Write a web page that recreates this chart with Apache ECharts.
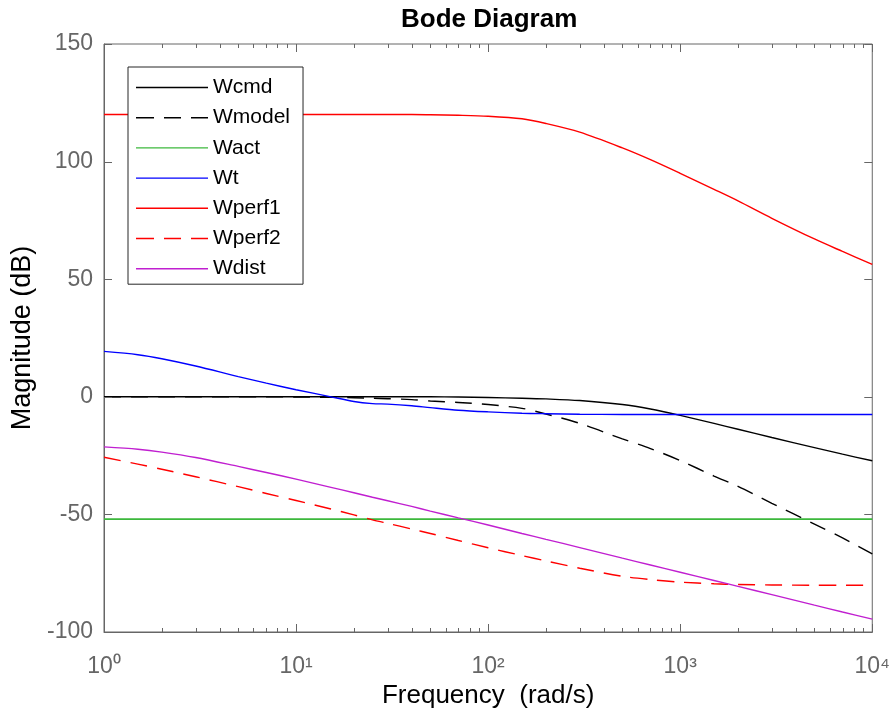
<!DOCTYPE html>
<html>
<head>
<meta charset="utf-8">
<script src="https://cdn.jsdelivr.net/npm/echarts@6/dist/echarts.min.js"></script>
<style>
html,body{margin:0;padding:0;background:#fff;}
#c{width:893px;height:715px;}
</style>
</head>
<body>
<div id="c"></div>
<script>
const freq = [1,1.5,2,3,5,7,10,15,20,25,30,40,50,70,100,150,200,300,500,700,1000,1500,2000,3000,5000,7000,10000];
// Magnitudes (dB)
const Wcmd   = [0,0,0,0,0,0,0,0,0,0,0,0,0,-0.1,-0.3,-0.6,-0.9,-1.6,-3.3,-5.2,-7.9,-11.3,-13.8,-17.3,-21.6,-24.4,-27.2];
const Wmodel = [0,0,0,0,0,0,-0.1,-0.2,-0.4,-0.6,-0.8,-1.2,-1.8,-2.4,-3.3,-4.9,-7.3,-11.3,-17.9,-22.0,-27.1,-33.7,-38.1,-45.3,-54.1,-60.0,-66.8];
const Wact   = [-52,-52,-52,-52,-52,-52,-52,-52,-52,-52,-52,-52,-52,-52,-52,-52,-52,-52,-52,-52,-52,-52,-52,-52,-52,-52,-52];
const Wt     = [19.3,17.9,16.2,13.1,8.6,5.8,3.0,0.1,-2.0,-2.9,-3.1,-3.8,-4.6,-5.7,-6.4,-7.0,-7.2,-7.4,-7.5,-7.5,-7.5,-7.5,-7.5,-7.5,-7.5,-7.5,-7.5];
const Wperf1 = [120,120,120,120,120,120,120,120,120,120,120,120,119.9,119.7,119.3,118.2,116.2,112.5,105.8,100.8,95.0,88.2,83.3,75.9,67.1,61.8,56.3];
const Wperf2 = [-25.7,-28.6,-30.8,-34.0,-38.2,-41.1,-44.1,-47.6,-50.2,-52.3,-53.8,-56.2,-58.1,-61.1,-64.2,-67.5,-69.8,-72.9,-76.3,-77.7,-78.8,-79.5,-79.8,-80.0,-80.1,-80.1,-80.1];
const Wdist  = [-21.3,-22.3,-23.5,-25.8,-29.6,-32.2,-35.0,-38.4,-40.8,-42.7,-44.2,-46.6,-48.6,-51.5,-54.5,-58.1,-60.6,-64.1,-68.6,-71.5,-74.6,-78.1,-80.6,-84.1,-88.6,-91.5,-94.5];

// Axis ticks and tick labels
const xMajorTicks = [1,10,100,1000,10000];
const xMinorTicks = [2,3,4,5,6,7,8,9,20,30,40,50,60,70,80,90,200,300,400,500,600,700,800,900,2000,3000,4000,5000,6000,7000,8000,9000];
const xTickLabels = {1: '10\u2070', 10: '10\u00B9', 100: '10\u00B2', 1000: '10\u00B3', 10000: '10\u2074'};
const yTickValues = [-100,-50,0,50,100,150];
const yTicks = {min:-100, max:150, interval:50};

const font = "'Liberation Sans', Arial, Helvetica, sans-serif";
const gray = '#666666';

// legend glyphs (solid / dashed line samples)
const iconSolid = 'path://M0,0M72,20M0,9.3h72v1.4h-72z';
const iconDash = 'path://M0,0M72,20M0,9.3h18v1.4h-18zM28,9.3h17v1.4h-17zM55,9.3h17v1.4h-17z';

function mk(name, arr, color, dashed, width) {
  return {
    name: name, type: 'line', xAxisIndex: 0, yAxisIndex: 0,
    data: freq.map((f, i) => [f, arr[i]]),
    symbol: 'none', showSymbol: false, smooth: 0.3,
    lineStyle: {color: color, width: width || 1.4, type: dashed ? [17, 10] : 'solid'},
    itemStyle: {color: color}
  };
}

// inward tick marks on all four sides, placed through the axes' own scales
function xTickSeries(values, len) {
  return {
    type: 'custom', xAxisIndex: 0, yAxisIndex: 0, silent: true, clip: false, z: 5,
    encode: {x: 0, y: 1},
    data: values.map(v => [v, 0]),
    renderItem: function (params, api) {
      const b = api.coord([api.value(0), yTicks.min]);
      const t = api.coord([api.value(0), yTicks.max]);
      const x = Math.round(b[0]) + 0.5;
      return {type: 'group', children: [
        {type: 'line', shape: {x1: x, y1: b[1], x2: x, y2: b[1] - len}, style: {stroke: gray, lineWidth: 1}},
        {type: 'line', shape: {x1: x, y1: t[1], x2: x, y2: t[1] + len}, style: {stroke: gray, lineWidth: 1}}
      ]};
    }
  };
}
function yTickSeries(values, len) {
  return {
    type: 'custom', xAxisIndex: 0, yAxisIndex: 0, silent: true, clip: false, z: 5,
    encode: {x: 0, y: 1},
    data: values.map(v => [1, v]),
    renderItem: function (params, api) {
      const l = api.coord([1, api.value(1)]);
      const r = api.coord([10000, api.value(1)]);
      const y = Math.round(l[1]) + 0.5;
      return {type: 'group', children: [
        {type: 'line', shape: {x1: l[0], y1: y, x2: l[0] + len, y2: y}, style: {stroke: gray, lineWidth: 1}},
        {type: 'line', shape: {x1: r[0], y1: y, x2: r[0] - len, y2: y}, style: {stroke: gray, lineWidth: 1}}
      ]};
    }
  };
}

const chart = echarts.init(document.getElementById('c'));
chart.setOption({
  animation: false,
  title: {
    text: 'Bode Diagram', left: 396, top: 2,
    textStyle: {fontSize: 26, fontWeight: 'bold', color: '#000', fontFamily: font}
  },
  grid: {left: 104, top: 44, width: 770, height: 588, show: true, borderColor: gray, borderWidth: 1, backgroundColor: 'transparent'},
  legend: {
    orient: 'vertical', left: 128, top: 67,
    padding: [10, 13, 5, 8],
    itemWidth: 72, itemHeight: 20, itemGap: 9.2,
    backgroundColor: '#ffffff', borderColor: '#262626', borderWidth: 1,
    selectedMode: false,
    textStyle: {fontSize: 21, color: '#000', fontFamily: font, lineHeight: 20},
    data: [
      {name: 'Wcmd', icon: iconSolid},
      {name: 'Wmodel', icon: iconDash},
      {name: 'Wact', icon: iconSolid},
      {name: 'Wt', icon: iconSolid},
      {name: 'Wperf1', icon: iconSolid},
      {name: 'Wperf2', icon: iconDash},
      {name: 'Wdist', icon: iconSolid}
    ]
  },
  xAxis: [
    {
      type: 'log', min: 1, max: 10000, position: 'bottom',
      name: 'Frequency  (rad/s)', nameLocation: 'middle', nameGap: 50,
      nameTextStyle: {color: '#000', fontSize: 26, fontFamily: font},
      axisLine: {show: true, onZero: false, lineStyle: {color: gray, width: 1}},
      axisTick: {show: false},
      splitLine: {show: false},
      axisLabel: {
        show: true, margin: 23, color: gray, fontSize: 23, fontFamily: font,
        formatter: v => xTickLabels[Math.round(v)] || ''
      }
    }
  ],
  yAxis: [
    {
      type: 'value', min: yTicks.min, max: yTicks.max, interval: yTicks.interval, position: 'left',
      name: 'Magnitude (dB)', nameLocation: 'middle', nameGap: 66,
      nameTextStyle: {color: '#000', fontSize: 27, fontFamily: font},
      axisLine: {show: true, onZero: false, lineStyle: {color: gray, width: 1}},
      axisTick: {show: false},
      axisLabel: {show: true, margin: 11, color: gray, fontSize: 23, fontFamily: font},
      splitLine: {show: false}
    }
  ],
  series: [
    mk('Wcmd', Wcmd, '#000000', false),
    mk('Wmodel', Wmodel, '#000000', true),
    mk('Wact', Wact, '#3cb83c', false, 1.8),
    mk('Wt', Wt, '#0000ff', false),
    mk('Wperf1', Wperf1, '#ff0000', false),
    mk('Wperf2', Wperf2, '#ff0000', true),
    mk('Wdist', Wdist, '#c01fd0', false),
    xTickSeries(xMajorTicks, 8),
    xTickSeries(xMinorTicks, 4),
    yTickSeries(yTickValues, 8)
  ]
});
</script>
</body>
</html>
